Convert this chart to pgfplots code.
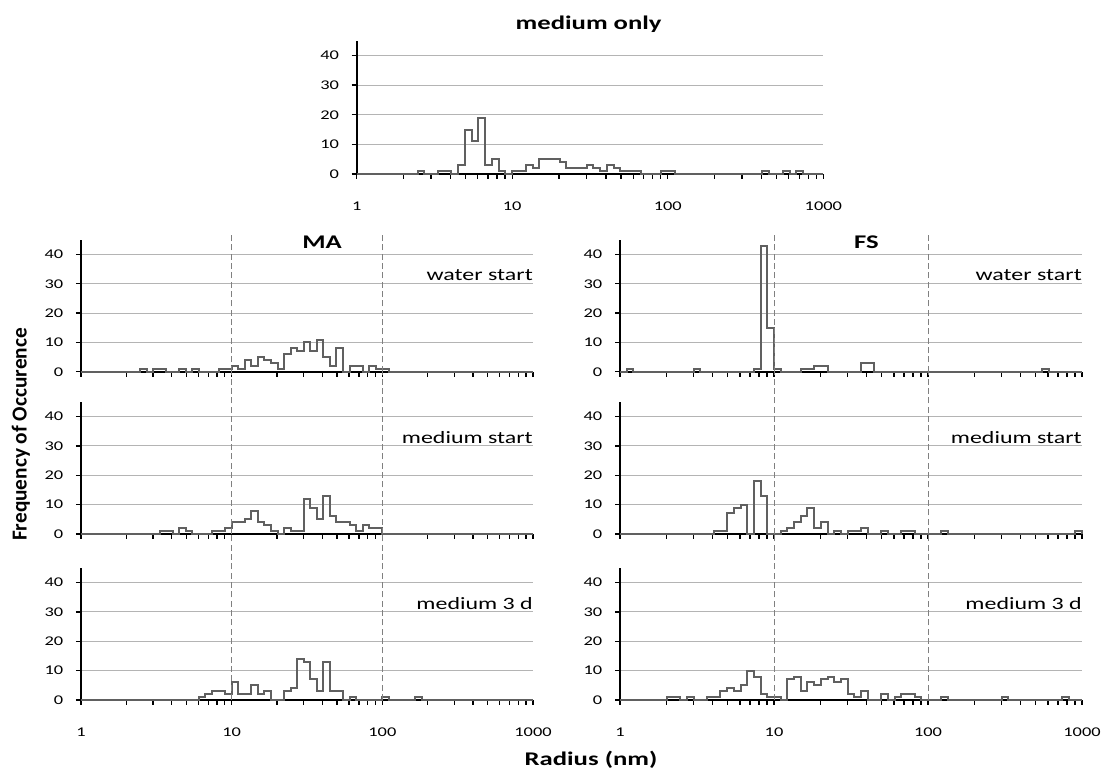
\documentclass[border=0pt]{standalone}
\usepackage{fontspec}
\setmainfont{Carlito}[FakeStretch=1.38]
\newfontfamily\ylabfont{Carlito}
\usepackage{pgfplots}
\pgfplotsset{compat=1.18}

\definecolor{histc}{RGB}{96,96,96}
\definecolor{gridc}{RGB}{180,180,180}
\definecolor{dashc}{RGB}{128,128,128}

% x is the bin index: 23 log-spaced bins per decade, bin 0 starts at 1 nm
\pgfplotsset{
  panel/.style={
    scale only axis, width=339pt, height=99pt,
    xmin=0, xmax=69, ymin=0, ymax=45,
    axis lines*=left,
    axis line style={black, line width=1.5pt},
    xtick={0,23,46,69},
    xticklabels={1,10,100,1000},
    minor xtick={6.924,10.974,13.847,16.076,17.897,19.437,20.771,21.948,
      29.924,33.974,36.847,39.076,40.897,42.437,43.771,44.948,
      52.924,56.974,59.847,62.076,63.897,65.437,66.771,67.948},
    ytick={0,10,20,30,40},
    tick align=outside,
    major tick length=3.75pt, minor tick length=3.75pt,
    tick style={black, line width=1pt},
    ymajorgrids, grid style={gridc, line width=0.75pt},
    /pgf/number format/assume math mode=true,
    tick label style={font=\fontsize{10}{12}\selectfont},
    xticklabel style={yshift=-13.5pt},
    yticklabel style={xshift=-6pt},
    clip=false,
  },
  steps/.style={const plot, color=histc, line width=1.5pt},
}
\tikzset{
  refline/.style={dashc, line width=0.75pt, dash pattern=on 4.5pt off 2.5pt},
  tag/.style={anchor=east, inner sep=0pt, font=\fontsize{13}{15}\selectfont},
  ttl/.style={anchor=base, inner sep=0pt, font=\bfseries\fontsize{14.5}{17}\selectfont},
}

\begin{document}
\begin{tikzpicture}
\path[use as bounding box] (0,0) rectangle (830.25pt,579.75pt);

% medium only
\begin{axis}[panel, width=350pt, height=100pt, at={(267.5pt,449.25pt)}, anchor=south west]
\addplot[steps] coordinates {
 (0,0) (9,1) (10,0) (12,1) (14,0) (15,3) (16,15) (17,11) (18,19) (19,3)
 (20,5) (21,1) (22,0) (23,1) (25,3) (26,2) (27,5) (30,4) (31,2) (34,3)
 (35,2) (36,1) (37,3) (38,2) (39,1) (42,0) (45,1) (47,0) (60,1) (61,0)
 (63,1) (64,0) (65,1) (66,0) (69,0)};
\node[ttl] at (axis cs:34.3,48.7) {medium only};
\end{axis}

% MA water start
\begin{axis}[panel, xticklabels={}, at={(60.75pt,300.9pt)}, anchor=south west]
\addplot[steps] coordinates {
 (0,0) (9,1) (10,0) (11,1) (13,0) (15,1) (16,0) (17,1) (18,0) (21,1)
 (23,2) (24,1) (25,4) (26,2) (27,5) (28,4) (29,3) (30,1) (31,6) (32,8)
 (33,7) (34,10) (35,7) (36,11) (37,5) (38,2) (39,8) (40,0) (41,2) (43,0)
 (44,2) (45,1) (47,0) (69,0)};
\draw[refline] (axis cs:23,0) -- (axis cs:23,47.7);
\draw[refline] (axis cs:46,0) -- (axis cs:46,47.7);
\node[tag] at (axis cs:69,33) {water start};
\node[ttl] at (axis cs:36.8,42.2) {MA};
\end{axis}

% MA medium start
\begin{axis}[panel, xticklabels={}, at={(60.75pt,179.25pt)}, anchor=south west]
\addplot[steps] coordinates {
 (0,0) (12,1) (14,0) (15,2) (16,1) (17,0) (20,1) (22,2) (23,4) (25,5)
 (26,8) (27,4) (28,3) (29,1) (30,0) (31,2) (32,1) (34,12) (35,9) (36,5)
 (37,13) (38,6) (39,4) (41,3) (42,1) (43,3) (44,2) (46,0) (69,0)};
\draw[refline] (axis cs:23,0) -- (axis cs:23,56);
\draw[refline] (axis cs:46,0) -- (axis cs:46,56);
\node[tag] at (axis cs:69,33) {medium start};
\end{axis}

% MA medium 3 d
\begin{axis}[panel, at={(60.75pt,54.75pt)}, anchor=south west]
\addplot[steps] coordinates {
 (0,0) (18,1) (19,2) (20,3) (22,2) (23,6) (24,2) (26,5) (27,2) (28,3)
 (29,0) (31,3) (32,4) (33,14) (34,13) (35,7) (36,3) (37,13) (38,3) (40,0)
 (41,1) (42,0) (46,1) (47,0) (51,1) (52,0) (69,0)};
\draw[refline] (axis cs:23,0) -- (axis cs:23,56.5);
\draw[refline] (axis cs:46,0) -- (axis cs:46,56.5);
\node[tag] at (axis cs:69,33) {medium 3 d};
\end{axis}

% FS water start
\begin{axis}[panel, width=346.5pt, xticklabels={}, at={(465pt,300.9pt)}, anchor=south west]
\addplot[steps] coordinates {
 (0,0) (1,1) (2,0) (11,1) (12,0) (20,1) (21,43) (22,15) (23,1) (24,0)
 (27,1) (29,2) (31,0) (36,3) (38,0) (63,1) (64,0) (69,0)};
\draw[refline] (axis cs:23,0) -- (axis cs:23,47.7);
\draw[refline] (axis cs:46,0) -- (axis cs:46,47.7);
\node[tag] at (axis cs:69,33) {water start};
\node[ttl] at (axis cs:36.8,42.2) {FS};
\end{axis}

% FS medium start
\begin{axis}[panel, width=346.5pt, xticklabels={}, at={(465pt,179.25pt)}, anchor=south west]
\addplot[steps] coordinates {
 (0,0) (14,1) (16,7) (17,9) (18,10) (19,0) (20,18) (21,13) (22,0) (24,1)
 (25,2) (26,4) (27,6) (28,9) (29,2) (30,4) (31,0) (32,1) (33,0) (34,1)
 (36,2) (37,0) (39,1) (40,0) (42,1) (44,0) (48,1) (49,0) (68,1) (69,0)};
\draw[refline] (axis cs:23,0) -- (axis cs:23,56);
\draw[refline] (axis cs:46,0) -- (axis cs:46,56);
\node[tag] at (axis cs:69,33) {medium start};
\end{axis}

% FS medium 3 d
\begin{axis}[panel, width=346.5pt, at={(465pt,54.75pt)}, anchor=south west]
\addplot[steps] coordinates {
 (0,0) (7,1) (9,0) (10,1) (11,0) (13,1) (15,3) (16,4) (17,3) (18,5)
 (19,10) (20,8) (21,2) (22,1) (24,0) (25,7) (26,8) (27,3) (28,6) (29,5)
 (30,7) (31,8) (32,6) (33,7) (34,2) (35,1) (36,3) (37,0) (39,2) (40,0)
 (41,1) (42,2) (44,1) (45,0) (48,1) (49,0) (57,1) (58,0) (66,1) (67,0)
 (69,0)};
\draw[refline] (axis cs:23,0) -- (axis cs:23,56.5);
\draw[refline] (axis cs:46,0) -- (axis cs:46,56.5);
\node[tag] at (axis cs:69,33) {medium 3 d};
\end{axis}

\node[rotate=90, anchor=base, inner sep=0pt, font=\ylabfont\bfseries\fontsize{16}{19}\selectfont]
  at (20pt,253.9pt) {Frequency of Occurence};
\node[anchor=base, inner sep=0pt, font=\bfseries\fontsize{14.5}{17}\selectfont]
  at (443.25pt,5.5pt) {Radius (nm)};
\end{tikzpicture}
\end{document}
